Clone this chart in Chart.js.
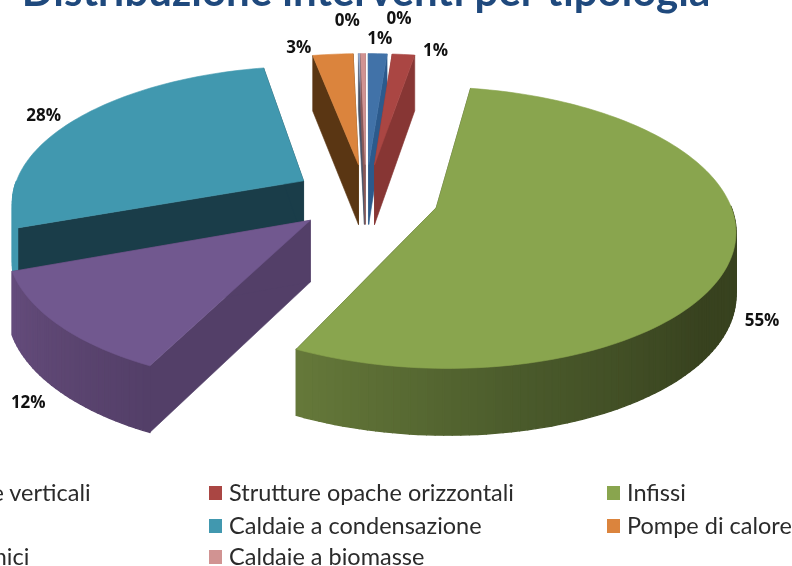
<!DOCTYPE html>
<html><head><meta charset="utf-8">
<style>
html,body{margin:0;padding:0;width:792px;height:566px;overflow:hidden;background:#fff}
#c{position:absolute;left:-220px;top:-40px;filter:blur(.45px)}
#legend{filter:blur(.35px)}
.lg{position:absolute;font:23.5px Lato,sans-serif;color:#2b2b2b;white-space:nowrap;line-height:26px}
.mk{position:absolute;width:13px;height:14px}
</style>
<script src="https://cdn.jsdelivr.net/npm/chart.js@4"></script>
</head><body>
<canvas id="c" width="1172" height="646"></canvas>
<div id="legend"></div>
<script>
const title = "Distribuzione interventi per tipologia";
const categories = ["Strutture opache verticali","Strutture opache orizzontali","Infissi","Solare termico","Caldaie a condensazione","Pompe di calore","Impianti geotermici","Caldaie a biomasse"];
const values = [1.2,1.45,54.7,12.1,27.6,2.6,0.1,0.3];
const colors = ["#4172a8","#aa4643","#89a54e","#71588f","#4198af","#db843d","#93a9cf","#d19392"];
const wallColors = ["#2c5a8c","#873634","#3c4a22","#533f68","#1a3d49","#5a3613","#4a5468","#8a5a5a"];
const arcStops = {2:["#66793a","#4a5a2b","#38421f","#38421f","#38421f","#38421f"],3:["#644c7c","#5d4672","#533f68"],4:["#4198af","#4198af"]};
const labelShift = [[2,-15],[32,-3],[29,69],[-30,78],[-30,-4],[-34,-6],[-12,-32],[36,-34]];
const paintOrder = [4,5,6,7,0,1,2,3];
const EXPLODE=0.25, AX=292, BY=135, PERSP=0.14, DEPTH=61, DEPTHP=0.08;

function proj(O,U,V){const k=1-PERSP*V;return [O[0]+AX*U/k,O[1]+BY*V/k];}
function hex(c){return [1,3,5].map(i=>parseInt(c.substr(i,2),16));}
function mix(stops,t){const n=stops.length-1,p=Math.min(n-1e-6,Math.max(0,t*n)),i=Math.floor(p),f=p-i,a=hex(stops[i]),b=hex(stops[i+1]);
  return "rgb("+a.map((v,j)=>Math.round(v+(b[j]-v)*f)).join(",")+")";}
const pie3d={id:'pie3d',
 beforeDatasetsDraw(chart){
  const ctx=chart.ctx, meta=chart.getDatasetMeta(0);
  const poly=(pts,fill,lw)=>{ctx.beginPath();pts.forEach((p,i)=>i?ctx.lineTo(p[0],p[1]):ctx.moveTo(p[0],p[1]));ctx.closePath();ctx.fillStyle=fill;ctx.strokeStyle=fill;ctx.lineWidth=lw||.6;ctx.lineJoin='round';ctx.fill();ctx.stroke();};
  paintOrder.forEach(i=>{
   const el=meta.data[i],O=[el.x,el.y];
   const a0=el.startAngle,a1=el.endAngle,mid=(a0+a1)/2;
   const d=EXPLODE, oU=d*Math.cos(mid), oV=d*Math.sin(mid);
   const steps=Math.max(2,Math.ceil((a1-a0)*40));
   const top=[],raw=[];
   for(let s=0;s<=steps;s++){const a=a0+(a1-a0)*s/steps,U=oU+Math.cos(a),V=oV+Math.sin(a);top.push(proj(O,U,V));raw.push([U,V]);}
   const apex=proj(O,oU,oV);
   const dn=(p,V)=>[p[0],p[1]+DEPTH/(1-DEPTHP*V)];
   const apexB=dn(apex,oV);
   poly([apex,top[0],dn(top[0],raw[0][1]),apexB],wallColors[i]);
   poly([apex,top[steps],dn(top[steps],raw[steps][1]),apexB],wallColors[i]);
   const stops=arcStops[i]||[wallColors[i],wallColors[i]];
   for(let s=0;s<steps;s++){
    const a=a0+(a1-a0)*(s+.5)/steps;
    if(Math.sin(a)<0) continue; // the back of the rim is hidden by the top face
    poly([top[s],top[s+1],dn(top[s+1],raw[s+1][1]),dn(top[s],raw[s][1])],mix(stops,1-(s+.5)/steps),1.4);
   }
   poly([apex].concat(top),colors[i]);
  });
  ctx.font="bold 17px 'Open Sans',sans-serif";ctx.fillStyle="#111";ctx.textAlign="center";ctx.textBaseline="middle";
  const total=values.reduce((a,b)=>a+b,0);
  meta.data.forEach((el,i)=>{
   const mid=(el.startAngle+el.endAngle)/2,U=(1+EXPLODE)*Math.cos(mid),V=(1+EXPLODE)*Math.sin(mid);
   const p=proj([el.x,el.y],U,V);
   ctx.fillText(Math.round(values[i]/total*100)+"%",p[0]+labelShift[i][0],p[1]+labelShift[i][1]);
  });
  return false;
 }};
new Chart(document.getElementById('c'),{
 type:'pie',
 data:{labels:categories,datasets:[{data:values,backgroundColor:colors,borderWidth:0,hoverOffset:0}]},
 options:{responsive:false,animation:false,
  layout:{padding:{bottom:229}},
  plugins:{legend:{display:false},tooltip:{enabled:false},
   title:{display:true,text:title,color:"#1f497d",font:{family:"Lato,sans-serif",size:42,weight:"bold"},padding:{top:7,bottom:0}}}},
 plugins:[pie3d]});
const lg=document.getElementById('legend');
const colX=[-189,209,607],rowY=[492,525,556];
categories.forEach((name,i)=>{
 const c=i%3,r=Math.floor(i/3);
 const m=document.createElement('div');m.className='mk';m.style.cssText=`left:${colX[c]}px;top:${rowY[r]-6}px;background:${colors[i]}`;lg.appendChild(m);
 const t=document.createElement('div');t.className='lg';t.textContent=name;t.style.cssText=`left:${colX[c]+20}px;top:${rowY[r]-13}px`;lg.appendChild(t);
});
</script>
</body></html>
